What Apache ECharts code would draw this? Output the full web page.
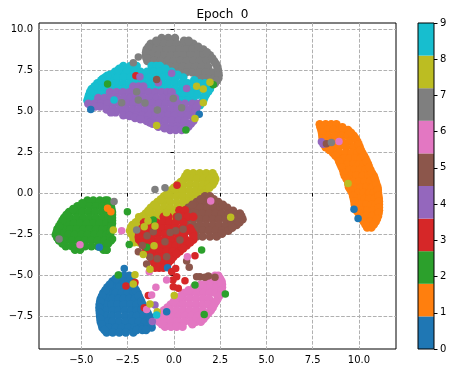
<!DOCTYPE html>
<html>
<head>
<meta charset="utf-8">
<style>html,body{margin:0;background:#fff}#c{width:454px;height:373px}</style>
<script src="https://cdn.jsdelivr.net/npm/echarts@6/dist/echarts.min.js"></script>
</head>
<body>
<div id="c"></div>
<script>
// every row is [y, x, x, x, ...]
const digit0Rows = [
  [-5.05,-2.96,-2.68,-2.41],
  [-5.4,-3.32,-3.0,-2.7,-2.45,-2.23],
  [-5.75,-3.59,-3.25,-2.95,-2.6,-2.35,-2.14],
  [-6.1,-3.81,-3.5,-3.15,-2.8,-2.5,-2.2,-1.96],
  [-6.45,-3.95,-3.6,-3.3,-3.0,-2.7,-2.4,-2.1,-1.83],
  [-6.8,-4.01,-3.7,-3.35,-3.05,-2.7,-2.35,-2.0,-1.69],
  [-7.15,-4.01,-3.65,-3.3,-3.0,-2.65,-2.3,-2.0,-1.75,-1.51],
  [-7.5,-3.99,-3.7,-3.35,-3.0,-2.65,-2.3,-2.0,-1.65,-1.33],
  [-7.85,-3.95,-3.6,-3.3,-2.95,-2.6,-2.25,-1.9,-1.55,-1.24],
  [-8.2,-3.86,-3.5,-3.15,-2.8,-2.45,-2.1,-1.75,-1.45,-1.2],
  [-8.5,-3.63,-3.3,-2.95,-2.6,-2.19],
  [-5.22,-3.15,-2.32],[-5.58,-3.46,-2.18],[-5.92,-3.7,-2.05],[-6.28,-3.88,-1.9],[-6.62,-3.98,-1.76],
  [-6.98,-4.02,-1.6],[-7.32,-4.0,-1.42],[-7.68,-3.97,-1.28],[-8.02,-3.9,-1.22],[-8.35,-3.75,-2.0,-1.7,-1.5]
];
const digit1Rows = [
  [4.2,7.88,8.2,8.5,8.78],
  [3.85,7.97,8.3,8.63,8.96,9.2,9.41],
  [3.5,8.02,8.35,8.7,9.05,9.4,9.72],
  [3.15,8.06,8.4,8.75,9.1,9.5,9.91],
  [2.8,8.2,8.55,8.9,9.3,9.7,10.04],
  [2.45,8.6,8.95,9.3,9.6,9.9,10.18],
  [2.1,8.87,9.2,9.5,9.8,10.1,10.35],
  [1.75,9.0,9.35,9.7,10.0,10.25,10.49],
  [1.4,9.14,9.45,9.75,10.05,10.35,10.62],
  [1.05,9.23,9.55,9.85,10.2,10.5,10.8],
  [0.7,9.41,9.7,10.0,10.3,10.6,10.9],
  [0.35,9.46,9.8,10.1,10.4,10.7,11.0],
  [0,9.64,9.95,10.25,10.55,10.8,11.03],
  [-0.35,9.72,10.0,10.3,10.55,10.85,11.07],
  [-0.7,9.77,10.1,10.4,10.7,10.9,11.08],
  [-1.05,9.86,10.15,10.45,10.75,11.08],
  [-1.4,10.08,10.4,10.7,11.03],
  [-1.75,10.26,10.6,10.9],
  [-2.1,10.44,10.67],
  [4.02,7.92,9.1],[3.68,8.0,9.57],[3.32,8.04,9.82],[2.98,8.12,9.98],[2.62,8.4,10.1],[2.28,8.73,10.27],
  [1.92,8.93,10.42],[1.58,9.07,10.55],[1.22,9.18,10.7],[0.88,9.32,10.85],[0.52,9.43,10.95],[0.18,9.55,11.02],
  [-0.18,9.68,11.05],[-0.52,9.75,11.08],[-0.88,9.81,11.08],[-1.22,9.97,11.06],[-1.58,10.17,10.97],[-1.92,10.35,10.8]
];
const digit2Rows = [
  [-0.45,-4.67,-4.35,-4.0,-3.7,-3.58],
  [-0.8,-5.21,-4.9,-4.55,-4.2,-3.85,-3.4],
  [-1.15,-5.66,-5.3,-4.95,-4.6,-4.25,-3.9,-3.6,-3.34],
  [-1.5,-5.93,-5.6,-5.25,-4.9,-4.55,-4.2,-3.85,-3.55,-3.34],
  [-1.85,-6.11,-5.75,-5.4,-5.05,-4.7,-4.35,-4.0,-3.65,-3.34],
  [-2.2,-6.29,-5.95,-5.6,-5.25,-4.9,-4.55,-4.2,-3.85,-3.6,-3.4],
  [-2.55,-6.38,-6.05,-5.7,-5.35,-5.0,-4.65,-4.3,-3.95,-3.65,-3.45],
  [-2.9,-6.2,-5.85,-5.5,-5.15,-4.8,-4.45,-4.1,-3.75,-3.4],
  [-3.25,-5.84,-5.5,-5.15,-4.8,-4.45,-4.1,-3.76],
  [-3.45,-5.34,-5.07,-3.8,-3.63],
  [-0.62,-4.95,-3.5],[-0.98,-5.44,-3.37],[-1.32,-5.8,-3.34],[-1.68,-6.02,-3.34],[-2.02,-6.2,-3.37],
  [-2.38,-6.33,-3.42],[-2.72,-6.3,-3.42],[-3.08,-6.02,-3.55]
];
const digit3Rows = [
  [-1.05,0.3,0.6],
  [-1.45,-0.55,-0.3,0.15,0.45,0.75,1.05],
  [-1.8,-1.61,-1.3,-0.95,-0.6,-0.25,0.1,0.51],
  [-2.15,-1.7,-1.35,-1.0,-0.65,-0.3,0.05,0.4,0.87],
  [-2.5,-1.88,-1.55,-1.2,-0.85,-0.5,-0.15,0.2,0.55,1.05],
  [-2.85,-1.88,-1.5,-1.15,-0.8,-0.45,-0.1,0.25,0.65,1.05],
  [-3.2,-1.61,-1.3,-0.95,-0.6,-0.25,0.1,0.4,0.69],
  [-3.55,-1.43,-1.1,-0.75,-0.4,-0.05,0.33],
  [-3.9,-1.25,-0.9,-0.55,-0.2,-0.03],
  [-4.25,-1.07,-0.8,-0.5,-0.3],
  [-4.55,-1.02,-0.8,-0.57],
  [-2.32,-1.8,0.95],[-2.68,-1.9,1.05],[-3.02,-1.75,0.88],[-3.38,-1.52,0.5],[-3.72,-1.34,0.15],[-4.08,-1.16,-0.15]
];
const digit4Rows = [
  [6.5,-2.19,-1.9,-1.65],
  [6.15,-3.45,-3.1,-2.75,-2.4,-2.05,-1.7,-1.35,-1.0,-0.65,-0.35,-0.12],
  [5.8,-4.08,-3.75,-3.4,-3.05,-2.7,-2.35,-2.0,-1.65,-1.3,-0.95,-0.6,-0.25,0.06],
  [5.45,-4.62,-4.3,-3.95,-3.6,-3.25,-2.9,-2.55,-2.2,-1.85,-1.5,-1.15,-0.8,-0.45,-0.1,0.24,0.6,1.0,1.3],
  [5.1,-3.63,-3.3,-2.95,-2.6,-2.25,-1.9,-1.55,-1.2,-0.85,-0.5,-0.15,0.2,0.55,0.9,1.19],
  [4.75,-2.73,-2.4,-2.05,-1.7,-1.35,-1.0,-0.65,-0.3,0.05,0.4,0.75,1.14],
  [4.4,-1.47,-1.15,-0.8,-0.45,-0.1,0.25,0.6,1.05],
  [4.05,-0.84,-0.5,-0.15,0.2,0.5,0.78],
  [3.85,-0.2,0.1,0.42],
  [5.28,-4.25,-4.0,1.25],[4.92,-3.15,-3.4,1.17],[4.7,-2.4],[4.58,-2.1,1.1],[4.5,-1.8],[4.3,-1.3],[4.22,-1.15,0.92],[3.95,-0.5,0.6]
];
const digit5Rows = [
  [-0.2,1.68,1.95],
  [-0.55,1.23,1.55,1.85,2.15,2.4],
  [-0.9,0.78,1.1,1.45,1.8,2.15,2.5,2.89],
  [-1.25,0.51,0.85,1.2,1.55,1.9,2.25,2.6,2.95,3.3,3.57],
  [-1.6,0.33,0.7,1.05,1.4,1.75,2.1,2.45,2.8,3.15,3.45,3.71],
  [-1.95,0.69,1.05,1.4,1.75,2.1,2.45,2.8,3.1,3.39],
  [-2.3,0.87,1.2,1.55,1.9,2.25,2.6,2.94],
  [-2.65,1.23,1.55,1.95,2.31],
  [-0.38,1.45,2.15],[-0.72,1.0,2.65],[-1.08,0.65,3.2],[-1.42,0.42,3.65],[-1.78,0.5,3.55],[-2.12,0.78,3.15],[-2.48,1.05,2.6]
];
const digit6Rows = [
  [-5.05,2.22,2.4],
  [-5.4,1.77,2.05,2.35,2.58],
  [-5.75,1.09,1.4,1.7,2.0,2.3,2.6],
  [-6.1,0.55,0.9,1.25,1.6,1.95,2.25,2.54],
  [-6.45,0.19,0.5,0.85,1.2,1.55,1.9,2.36],
  [-6.8,-0.17,0.15,0.5,0.85,1.2,1.55,1.85,2.18],
  [-7.15,-0.53,-0.2,0.15,0.5,0.85,1.2,1.55,2.0],
  [-7.5,-0.8,-0.45,-0.1,0.25,0.6,0.95,1.3,1.73],
  [-7.85,-0.8,-0.5,-0.15,0.2,0.55,0.9,1.2,1.46],
  [-8.15,-0.48,-0.15,0.15,0.47],
  [-5.22,2.0,2.5],[-5.58,1.45,2.6],[-5.92,0.8,2.58],[-6.28,0.37,2.45],[-6.62,0,2.28],[-6.98,-0.35,2.1],
  [-7.32,-0.68,1.87],[-7.68,-0.82,1.6],[-8.0,-0.65,1.0]
];
const digit7Rows = [
  [9.45,-0.66,-0.3,0.06],
  [9.1,-1.25,-0.9,-0.55,-0.2,0.15,0.5,0.8,1.05],
  [8.75,-1.47,-1.1,-0.75,-0.4,-0.05,0.3,0.65,1.0,1.3,1.59],
  [8.4,-1.52,-1.2,-0.85,-0.5,-0.15,0.2,0.55,0.9,1.25,1.6,1.95],
  [8.05,-1.43,-1.05,-0.7,-0.35,0,0.35,0.7,1.05,1.4,1.75,2.17],
  [7.7,-0.57,-0.25,0.1,0.45,0.8,1.15,1.5,1.85,2.35],
  [7.35,-0.03,0.3,0.65,1.0,1.35,1.7,2.05,2.4],
  [7.0,1.23,1.55,1.9,2.2,2.4],
  [6.7,1.86,2.05,2.22],
  [9.28,-0.95,0.55,0.8],[8.92,-1.37,1.32],[8.58,-1.5,1.78],[8.22,-1.48,2.07],[7.88,2.27],[7.52,2.38],[7.18,2.42],[6.85,2.32]
];
const digit8Rows = [
  [1.2,0.73,1.05,1.4,1.75,2.09],
  [0.85,0.55,0.9,1.25,1.6,1.95,2.24],
  [0.5,0.19,0.5,0.85,1.2,1.55,1.85,2.09],
  [0.15,-0.17,0.15,0.5,0.85,1.2,1.5,1.73],
  [-0.2,-0.53,-0.2,0.15,0.5,0.85,1.15,1.37],
  [-0.55,-0.89,-0.55,-0.2,0.15,0.5,0.8,1.01],
  [-0.9,-1.25,-0.9,-0.55,-0.2,0.15,0.47],
  [-1.25,-1.52,-1.2,-0.85,-0.5,-0.15,0.11],
  [-1.6,-1.88,-1.55,-1.2,-0.85,-0.5,-0.25],
  [-1.95,-2.24,-1.9,-1.55,-1.2,-0.97],
  [-2.3,-2.37,-2.05,-1.7,-1.33],
  [-2.65,-2.19,-1.9,-1.65],
  [-3.0,-2.15,-1.9],
  [1.02,0.62,2.18],[0.68,0.37,2.18],[0.32,0,1.92],[-0.02,-0.35,1.55],[-0.38,-0.7,1.2],[-0.72,-1.07,0.75],
  [-1.08,-1.38,0.3],[-1.42,-1.7,-0.07],[-1.78,-2.05,-0.6],[-2.12,-2.32,-1.15],[-2.48,-2.3],[-2.82,-2.17,-1.75]
];
const digit9Rows = [
  [7.75,-2.73,-2.35,-2.01,-1.2,-0.95,-0.75],
  [7.4,-3.18,-2.85,-2.5,-2.15,-1.8,-1.45,-1.1,-0.75,-0.4,-0.12],
  [7.05,-3.72,-3.4,-3.05,-2.7,-2.35,-2.0,-1.65,-1.3,-0.95,-0.6,-0.25,0.1,0.51],
  [6.7,-4.13,-3.8,-3.45,-3.1,-2.75,-2.4,-2.05,-1.7,-1.35,-1.0,-0.65,-0.3,0.05,0.4,0.75,1.1,1.4,1.68],
  [6.35,-4.44,-4.1,-3.75,-3.4,-3.05,-2.7,-2.35,-2.0,-1.65,-1.3,-0.95,-0.6,-0.25,0.1,0.45,0.8,1.15,1.5,1.95],
  [6.0,-4.58,-4.25,-3.9,-3.54,0.24,0.6,0.95,1.3,1.73],
  [5.65,-4.67,-4.26,0.33,0.7,1.05,1.59],
  [5.35,1.23,1.41],
  [7.58,-2.95,-0.45],[7.5,-3.0],[7.22,-3.45,0.2],[7.15,-3.6],[6.95,-3.85],[6.88,-3.92,1.1],[6.52,-4.28,1.85],
  [6.18,-4.52,1.85],[5.82,-4.62,1.65],[5.5,-4.6,1.5]
];
// single points lying apart from or on top of the groups: [x, y, digit]
const strayPoints = [
  [-4.49,5.1,0],[1.37,4.8,0],[-4.03,-3.31,0],[-2.68,-4.6,0],[-0.34,-4.55,0],[-0.39,-7.24,0],[9.73,-0.99,0],[9.95,-1.55,0],
  [-3.58,-0.93,1],[-3.4,-1.14,1],
  [-3.58,6.65,2],[0.65,3.84,2],[2.13,6.6,2],[-2.51,-1.14,2],[-3.31,-2.8,2],[-3.63,-3.48,2],[-2.41,-3.13,2],[-1.47,-3.31,2],[1.5,-3.48,2],[-3,-5,2],[1.14,-5.61,2],[2.78,-6.16,2],[1.64,-7.4,2],[-1.11,-1.65,2],
  [-2.05,7.15,3],[0.17,0.47,3],[-2.59,-5.67,3],[-2.1,-5.45,3],[-1.38,-6.24,3],[-1.6,-6.99,3],[1.14,-3.82,3],[0.15,-5.1,3],[-0.12,-4.8,3],[-0.03,-5.71,3],[0.24,-5.81,3],[0.6,-5.35,3],[-0.05,-5.3,3],[0.1,-4.6,3],
  [-1.83,7.09,4],[-0.84,6.73,4],[-0.12,7.3,4],[0.69,6.38,4],[-1.16,-7.83,4],[-1.02,-6.83,4],[8.06,2.97,4],[7.97,3.13,4],
  [-0.93,6.93,5],[0.83,-4.53,5],[0.69,-4.15,5],[-1.47,-4.33,5],[-1.92,-3.58,5],[0.33,-2.87,5],[-0.48,-2.97,5],[-1.11,-2.36,5],[0.24,-1.44,5],[-0.39,-3.88,5],[1.41,-5.1,5],[1.86,-5.06,5],[2.22,-5.14,5],[1.68,-5.14,5],[1.23,-5.1,5],[8.24,3.0,5],
  [-1.7,-3.2,5],[-1.3,-3.9,5],[-0.9,-4.0,5],[0.1,-2.3,5],[0.5,-2.2,5],[-0.2,-2.4,5],[-1.45,-2.6,5],
  [-5.07,-3.15,6],[-2.82,-2.3,6],[1.99,-0.49,6],[-1.33,-4.8,6],[-0.39,-5.3,6],[-0.97,-5.75,6],[-1.2,-6.22,6],[-1.47,-7.1,6],[0.73,-3.88,6],[8.92,3.15,6],
  [-1.92,8.3,7],[-2.19,7.95,7],[-2.01,6.18,7],[-2.82,5.5,7],[-1.56,5.49,7],[-1.92,5.67,7],[-0.03,5.77,7],[0.42,5.2,7],[-0.89,5.06,7],[-3.23,-0.51,7],[-1.02,0.22,7],[-0.48,0.33,7],[-6.2,-2.8,7],[-2.01,-2.26,7],[8.51,3.09,7],
  [1.14,4.55,8],[1.95,6.75,8],[1.23,6.52,8],[1.59,6.34,8],[1.59,5.5,8],[-0.93,4.12,8],[-3.27,-2.26,8],[-1.02,-2.01,8],[-1.07,-3.21,8],[-1.65,-3.74,8],[-1.29,-4.65,8],[-2.1,-4.98,8],[-2.19,-5.55,8],[0.02,-6.24,8],[-0.9,-7.24,8],[-1.29,-6.77,8],[3.07,-1.48,8],[9.41,0.58,8],
  [-1.9,-1.45,8],[-1.4,-1.7,8],[-1.6,-2.05,8],[-0.4,-1.2,8],
  [-3.23,5.67,9],[-0.93,-7.44,9]
];
const digitColors = ['#1f77b4','#ff7f0e','#2ca02c','#d62728','#9467bd','#8c564b','#e377c2','#7f7f7f','#bcbd22','#17becf'];
const xTicks = [-5,-2.5,0,2.5,5,7.5,10];
const yTicks = [-7.5,-5,-2.5,0,2.5,5,7.5,10];
const colorbarTicks = [0,1,2,3,4,5,6,7,8,9];
const colorbarSpans = [0.9,0.9,0.9,0.9,0.9,0.9,0.9,0.9,0.9,0.9];

const font = 'DejaVu Sans';
const tickLabel = v => Number(v).toFixed(1).replace('-', '\u2212');
const rowsToPoints = rows => rows.flatMap(([y, ...xs]) => xs.map(x => [x, y]));

// drawing order: the later group lies on top, as in the picture
const drawOrder = [
  [digit7Rows, 7], [digit9Rows, 9], [digit4Rows, 4], [digit8Rows, 8], [digit5Rows, 5],
  [digit3Rows, 3], [digit2Rows, 2], [digit0Rows, 0], [digit6Rows, 6], [digit1Rows, 1]
];
const series = drawOrder.map(([rows, digit]) => ({
  type: 'scatter', name: String(digit), xAxisIndex: 0, yAxisIndex: 0,
  data: rowsToPoints(rows), symbolSize: 8.5, silent: true,
  itemStyle: { color: digitColors[digit], opacity: 1 }
}));
series.push({
  type: 'scatter', name: 'stray', xAxisIndex: 0, yAxisIndex: 0, data: strayPoints,
  symbolSize: 7.5, silent: true, z: 3,
  itemStyle: { opacity: 1, color: p => digitColors[p.data[2]] }
});
colorbarSpans.forEach((span, i) => series.push({
  type: 'bar', stack: 'colorbar', xAxisIndex: 1, yAxisIndex: 1, data: [span],
  barWidth: '100%', silent: true, itemStyle: { color: digitColors[i] }
}));

const chart = echarts.init(document.getElementById('c'), null, { renderer: 'canvas' });
chart.setOption({
  animation: false,
  backgroundColor: '#fff',
  title: {
    text: 'Epoch  0', left: 217.5, top: 4, textAlign: 'center',
    textStyle: { fontFamily: font, fontSize: 12, fontWeight: 'normal', color: '#000' }
  },
  grid: [
    { left: 39, top: 23, width: 357, height: 326, show: true, borderColor: '#000', borderWidth: 1 },
    { left: 418, top: 23, width: 16, height: 326, show: true, borderColor: '#000', borderWidth: 1, z: 5 }
  ],
  xAxis: [
    {
      type: 'value', gridIndex: 0, min: -7.285, max: 12,
      axisLine: { show: false },
      axisTick: { show: true, length: 3.5, customValues: xTicks, lineStyle: { color: '#000' } },
      axisLabel: { customValues: xTicks, formatter: tickLabel, fontFamily: font, fontSize: 10, color: '#000', margin: 6 },
      splitLine: { show: true, lineStyle: { color: '#b0b0b0', type: [3.7, 1.6], width: 1 } }
    },
    { type: 'category', gridIndex: 1, data: ['digit'], show: false }
  ],
  yAxis: [
    {
      type: 'value', gridIndex: 0, min: -9.51, max: 10.37,
      axisLine: { show: false },
      axisTick: { show: true, length: 3.5, customValues: yTicks, lineStyle: { color: '#000' } },
      axisLabel: { customValues: yTicks, formatter: tickLabel, fontFamily: font, fontSize: 10, color: '#000', margin: 6 },
      splitLine: { show: true, lineStyle: { color: '#b0b0b0', type: [3.7, 1.6], width: 1 } }
    },
    {
      type: 'value', gridIndex: 1, min: 0, max: 9, position: 'right',
      axisLine: { show: false },
      axisTick: { show: true, length: 3.5, customValues: colorbarTicks, lineStyle: { color: '#000' } },
      axisLabel: { customValues: colorbarTicks, fontFamily: font, fontSize: 10, color: '#000', margin: 6 },
      splitLine: { show: false }
    }
  ],
  series
});
</script>
</body>
</html>
